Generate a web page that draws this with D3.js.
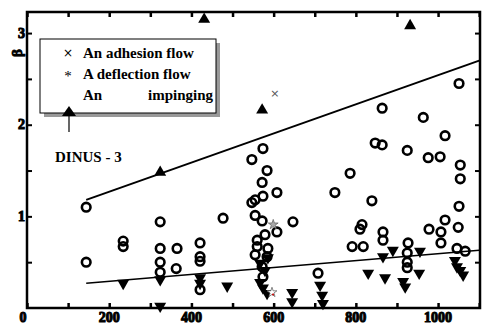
<!DOCTYPE html>
<html>
<head>
<meta charset="utf-8">
<script src="https://cdn.jsdelivr.net/npm/d3@7"></script>
<style>
  html, body { margin: 0; padding: 0; background: #fff; }
</style>
</head>
<body>
<svg id="chart" width="482" height="327" font-family="'Liberation Serif', 'DejaVu Serif', 'Times New Roman', serif" font-weight="bold"></svg>
<script>
// Open circles: [x, beta]
const circles = [
  [144,1.10],[144,0.50],[234,0.73],[234,0.67],[324,0.94],[324,0.65],[324,0.50],[324,0.39],
  [365,0.65],[363,0.43],[421,0.71],[421,0.56],[421,0.51],[421,0.20],[477,0.98],
  [574,1.74],[547,1.62],[584,1.50],[572,1.37],[608,1.26],[574,1.22],[555,1.18],[547,1.15],
  [555,1.01],[572,0.95],[608,0.83],[647,0.94],[579,0.80],[560,0.74],[586,0.65],[560,0.67],
  [555,0.58],[584,0.56],[572,0.45],[574,0.34],
  [708,0.38],[749,1.26],[786,1.47],[847,1.80],[864,1.78],[839,1.17],[815,0.91],[810,0.86],
  [866,0.83],[866,0.74],[791,0.67],[818,0.67],
  [864,2.18],[964,2.08],[1051,2.45],[1017,1.88],[925,1.72],[976,1.64],[1005,1.65],
  [1054,1.56],[1054,1.41],[1051,1.11],[1017,0.96],[978,0.86],[1007,0.83],[1049,0.88],
  [1007,0.71],[1046,0.65],[1066,0.62],[927,0.71],[925,0.60],[925,0.50],[925,0.44]
];
// Filled downward triangles
const downTriangles = [
  [234,0.27],[324,0.31],[324,0.02],[421,0.33],[421,0.27],[487,0.24],
  [586,0.55],[567,0.49],[579,0.41],[567,0.28],[574,0.22],[584,0.16],
  [645,0.17],[645,0.07],[713,0.25],[718,0.14],[720,0.05],
  [866,0.56],[830,0.38],[871,0.33],[890,0.63],[956,0.62],[915,0.29],[954,0.38],[920,0.23],
  [1041,0.52],[1046,0.45],[1054,0.41],[1061,0.36]
];
// An impinging flow (filled upward triangles)
const impinging = [[431,3.15],[572,2.16],[932,3.08],[324,1.48]];
// An adhesion flow
const adhesion = [[603,2.34]];
// A deflection flow
const deflection = [[599,0.91],[596,0.17]];
// Fitted bounding lines
const upperLine = [[144,1.18],[1100,2.70]];
const lowerLine = [[144,0.27],[1100,0.63]];

const xTickValues = [0,200,400,600,800,1000];
const yTickValues = [1,2,3];
const legendItems = ["An adhesion flow","A deflection flow"];

const svg = d3.select("#chart");
const m = {left: 27, right: 2, top: 12, bottom: 19};
const W = 482, H = 327;
const x = d3.scaleLinear().domain([0,1102]).range([m.left, W - m.right]);
const y = d3.scaleLinear().domain([0,3.23]).range([H - m.bottom, m.top]);

// Frame
svg.append("rect")
  .attr("x", x(0)).attr("y", y(3.23))
  .attr("width", x(1102) - x(0)).attr("height", y(0) - y(3.23))
  .attr("fill", "none").attr("stroke", "#000").attr("stroke-width", 2.5);

// Axes with inward ticks
const minorX = d3.range(0, 1101, 100);
const minorY = d3.range(0.5, 3.01, 0.5);
svg.append("g").attr("transform", `translate(0,${y(0)})`)
  .call(d3.axisBottom(x).tickValues(minorX).tickSize(-5).tickFormat(""))
  .call(g => g.select(".domain").remove())
  .call(g => g.selectAll("line").attr("stroke-width", 2.5));
svg.append("g").attr("transform", `translate(0,${y(3.23)})`)
  .call(d3.axisTop(x).tickValues(minorX).tickSize(-5).tickFormat(""))
  .call(g => g.select(".domain").remove())
  .call(g => g.selectAll("line").attr("stroke-width", 2.5));
svg.append("g").attr("transform", `translate(${x(0)},0)`)
  .call(d3.axisLeft(y).tickValues(minorY).tickSize(-5).tickFormat(""))
  .call(g => g.select(".domain").remove())
  .call(g => g.selectAll("line").attr("stroke-width", 2));
svg.append("g").attr("transform", `translate(${x(1102)},0)`)
  .call(d3.axisRight(y).tickValues(minorY).tickSize(-5).tickFormat(""))
  .call(g => g.select(".domain").remove())
  .call(g => g.selectAll("line").attr("stroke-width", 2));

// Tick labels
svg.append("g").selectAll("text").data(xTickValues).join("text")
  .attr("x", d => x(d) - (d === 0 ? 4 : 0)).attr("y", 322)
  .attr("text-anchor", "middle").attr("font-size", 14)
  .attr("stroke", "#000").attr("stroke-width", 1)
  .text(d => d);
svg.append("g").selectAll("text").data(yTickValues).join("text")
  .attr("x", 25).attr("y", d => y(d) + 4.5)
  .attr("text-anchor", "end").attr("font-size", 14)
  .attr("stroke", "#000").attr("stroke-width", 1)
  .text(d => d);

// Axis title (beta)
svg.append("text")
  .attr("transform", `translate(${22},${53}) rotate(-90)`)
  .attr("text-anchor", "middle").attr("font-size", 15)
  .attr("stroke", "#000").attr("stroke-width", 0.8)
  .text("β");

// Fitted lines
const line = d3.line().x(d => x(d[0])).y(d => y(d[1]));
svg.append("path").datum(upperLine).attr("d", line)
  .attr("stroke", "#000").attr("stroke-width", 2).attr("fill", "none");
svg.append("path").datum(lowerLine).attr("d", line)
  .attr("stroke", "#000").attr("stroke-width", 1.7).attr("fill", "none");

// Markers
svg.append("g").selectAll("circle").data(circles).join("circle")
  .attr("cx", d => x(d[0])).attr("cy", d => y(d[1])).attr("r", 4.3)
  .attr("fill", "none").attr("stroke", "#000").attr("stroke-width", 2.6);

const tri = d3.symbol().type(d3.symbolTriangle).size(62);
svg.append("g").selectAll("path").data(downTriangles).join("path")
  .attr("d", tri)
  .attr("transform", d => `translate(${x(d[0])},${y(d[1])}) rotate(180)`)
  .attr("fill", "#000");
svg.append("g").selectAll("path").data(impinging).join("path")
  .attr("d", tri)
  .attr("transform", d => `translate(${x(d[0])},${y(d[1])})`)
  .attr("fill", "#000");

svg.append("g").selectAll("text").data(adhesion).join("text")
  .attr("x", d => x(d[0])).attr("y", d => y(d[1]) + 3.5)
  .attr("text-anchor", "middle").attr("font-size", 11).attr("font-weight", "normal")
  .attr("font-family", "'DejaVu Sans', sans-serif")
  .style("fill", "#555").text("×");

const star = d3.symbol().type(d3.symbolStar).size(30);
svg.append("g").selectAll("path").data(deflection).join("path")
  .attr("d", star)
  .attr("transform", d => `translate(${x(d[0])},${y(d[1])})`)
  .attr("fill", (d, i) => i === 0 ? "#aaa" : "#fff")
  .attr("stroke", "#666").attr("stroke-width", 0.8);
svg.append("circle").attr("cx", x(deflection[1][0]) + 1).attr("cy", y(deflection[1][1]) + 2)
  .attr("r", 1).attr("fill", "#c00");

// Legend
const lg = svg.append("g");
lg.append("rect").attr("x", 44).attr("y", 43).attr("width", 176).attr("height", 74).attr("fill", "#999");
lg.append("rect").attr("x", 40).attr("y", 39).attr("width", 176).attr("height", 74)
  .attr("fill", "#fff").attr("stroke", "#000").attr("stroke-width", 1);
lg.append("text").attr("x", 68).attr("y", 57).attr("text-anchor", "middle")
  .attr("font-size", 12).attr("font-weight", "normal")
  .attr("font-family", "'DejaVu Sans', sans-serif").attr("fill", "#000").text("×");
lg.append("text").attr("x", 68).attr("y", 81).attr("text-anchor", "middle")
  .attr("font-size", 15).attr("font-weight", "normal")
  .attr("font-family", "'Liberation Serif', serif").attr("fill", "#000").text("*");
lg.selectAll("text.item").data(legendItems).join("text").attr("class", "item")
  .attr("x", 83).attr("y", (d, i) => 58 + i * 21).attr("font-size", 15).text(d => d);
lg.append("text").attr("x", 83).attr("y", 100).attr("font-size", 15).text("An");
lg.append("text").attr("x", 213).attr("y", 100).attr("text-anchor", "end").attr("font-size", 15).text("impinging");

// Arrow pointing to the impinging symbol
svg.append("line").attr("x1", 69).attr("y1", 132).attr("x2", 69).attr("y2", 112)
  .attr("stroke", "#000").attr("stroke-width", 1.2);
svg.append("path").attr("d", "M62,116 L76,116 L69,106 Z").attr("fill", "#000");

// Series name
svg.append("text").attr("x", 55).attr("y", 162).attr("font-size", 15).text("DINUS - 3");
</script>
</body>
</html>
